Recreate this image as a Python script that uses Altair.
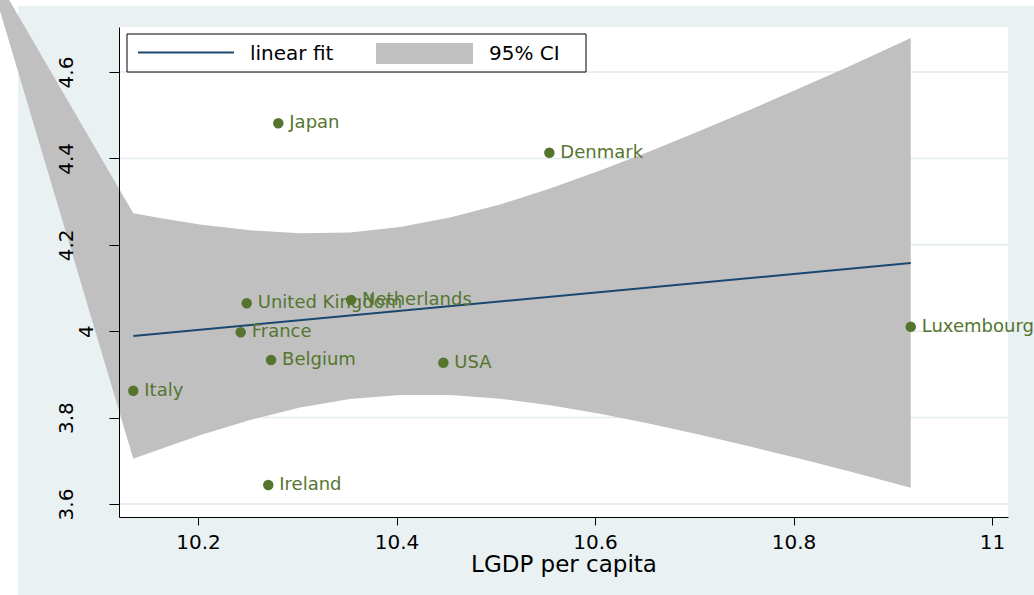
import altair as alt
import pandas as pd

# ---------------- data ----------------
countries = ["Japan", "Denmark", "United Kingdom", "Netherlands", "France",
             "Belgium", "USA", "Italy", "Ireland", "Luxembourg"]
lgdp = [10.2809, 10.5540, 10.2491, 10.3542, 10.2430,
        10.2736, 10.4472, 10.1348, 10.2708, 10.9181]
yval = [4.4812, 4.4132, 4.0646, 4.0722, 3.9975,
        3.9333, 3.9271, 3.8623, 3.6440, 4.0104]

fit_x = [10.1348, 10.9181]
fit_y = [3.989, 4.158]

# 95% CI band (first vertex is the stray vertex drawn by the original export)
ci_x = [9.984, 10.1348, 10.1617, 10.2020, 10.2524, 10.3028, 10.3531, 10.4035,
        10.4539, 10.5043, 10.5547, 10.6050, 10.6554, 10.7058, 10.7562,
        10.8066, 10.8569, 10.9181]
ci_upper = [4.8685, 4.2729, 4.2620, 4.2472, 4.2336, 4.2266, 4.2287, 4.2410,
            4.2630, 4.2933, 4.3301, 4.3718, 4.4167, 4.4639, 4.5127,
            4.5630, 4.6141, 4.6785]
ci_lower = [4.8685, 3.7049, 3.7269, 3.7593, 3.7947, 3.8234, 3.8431, 3.8525,
            3.8523, 3.8438, 3.8287, 3.8088, 3.7856, 3.7602, 3.7331,
            3.7046, 3.6752, 3.6377]

x_ticks = [10.2, 10.4, 10.6, 10.8, 11]
y_ticks = [3.6, 3.8, 4, 4.2, 4.4, 4.6]
x_domain = [10.1204, 11.0161]
y_domain = [3.5699, 4.7042]
legend_labels = ["linear fit", "95% CI"]
x_title = "LGDP per capita"

# ---------------- styling ----------------
W, H = 889, 490
FONT = "DejaVu Sans"
BG = "#EAF1F3"
GRID = "#E1EBEE"
NAVY = "#1A476F"
GREEN = "#55752F"
CI = "#C0C0C0"

pts = pd.DataFrame({"country": countries, "x": lgdp, "y": yval})
fit = pd.DataFrame({"x": fit_x, "y": fit_y})
band = pd.DataFrame({"x": ci_x, "upper": ci_upper, "lower": ci_lower})
grid = pd.DataFrame({"v": y_ticks})
one = alt.Data(values=[{"k": 0}])

xs = alt.Scale(domain=x_domain, nice=False, zero=False)
ys = alt.Scale(domain=y_domain, nice=False, zero=False)

x_axis = alt.Axis(values=x_ticks, format="~g", tickSize=8, labelPadding=7,
                  labelFontSize=20, title=x_title, titleFontSize=23,
                  titleY=36, titleBaseline="top", zindex=1)
y_axis = alt.Axis(values=y_ticks, format="~g", tickSize=10, labelAngle=270,
                  labelAlign="center",
                  labelBaseline={"condition": {"test": "datum.value == 4", "value": "top"},
                                 "value": "bottom"},
                  labelPadding=33, labelFontSize=20, title="", zindex=1)

# white page margins outside the Stata graph region (top and left)
strip_top = alt.Chart(one).mark_rect(color="white").encode(
    x=alt.value(-119), x2=alt.value(W + 26), y=alt.value(-27), y2=alt.value(-21))
strip_left = alt.Chart(one).mark_rect(color="white").encode(
    x=alt.value(-119), x2=alt.value(-101), y=alt.value(-27), y2=alt.value(H + 78))

gridlines = alt.Chart(grid).mark_rule(color=GRID, strokeWidth=1.5).encode(
    y=alt.Y("v:Q", scale=ys, axis=y_axis))

band_layer = alt.Chart(band).mark_area(color=CI, opacity=1).encode(
    x=alt.X("x:Q", scale=xs, axis=x_axis),
    y=alt.Y("upper:Q", scale=ys, axis=y_axis),
    y2="lower:Q")

fit_layer = alt.Chart(fit).mark_line(color=NAVY, strokeWidth=2).encode(
    x=alt.X("x:Q", scale=xs, axis=x_axis),
    y=alt.Y("y:Q", scale=ys, axis=y_axis))

pt_layer = alt.Chart(pts).mark_circle(size=110, color=GREEN, opacity=1).encode(
    x=alt.X("x:Q", scale=xs, axis=x_axis),
    y=alt.Y("y:Q", scale=ys, axis=y_axis))

lab_layer = alt.Chart(pts).mark_text(align="left", baseline="middle", dx=11,
                                     font=FONT, fontSize=18, color=GREEN).encode(
    x=alt.X("x:Q", scale=xs, axis=x_axis),
    y=alt.Y("y:Q", scale=ys, axis=y_axis),
    text="country:N")

# legend box (Stata style)
leg_box = alt.Chart(one).mark_rect(fill="white", stroke="#000000", strokeWidth=1).encode(
    x=alt.value(8), x2=alt.value(467), y=alt.value(7), y2=alt.value(45))
leg_line = alt.Chart(one).mark_rule(color=NAVY, strokeWidth=2).encode(
    x=alt.value(19), x2=alt.value(115), y=alt.value(25.5))
leg_swatch = alt.Chart(one).mark_rect(color=CI).encode(
    x=alt.value(257), x2=alt.value(354), y=alt.value(16), y2=alt.value(37))
leg_t1 = alt.Chart(one).mark_text(align="left", baseline="alphabetic", font=FONT,
                                  fontSize=20, color="#000000", text=legend_labels[0]).encode(
    x=alt.value(131), y=alt.value(33))
leg_t2 = alt.Chart(one).mark_text(align="left", baseline="alphabetic", font=FONT,
                                  fontSize=20, color="#000000", text=legend_labels[1]).encode(
    x=alt.value(370), y=alt.value(33))

chart = alt.layer(
    strip_top, strip_left, gridlines, band_layer, fit_layer, pt_layer, lab_layer,
    leg_box, leg_line, leg_swatch, leg_t1, leg_t2
).properties(
    width=W, height=H,
    autosize=alt.AutoSizeParams(type="none"),
    padding={"left": 119, "top": 27, "right": 26, "bottom": 78},
    background=BG,
).configure_view(stroke=None, fill="white").configure_axis(
    labelFont=FONT, titleFont=FONT, labelColor="#000000", titleColor="#000000",
    titleFontWeight="normal", domainColor="#000000", tickColor="#000000",
    grid=False, labelFlush=False, labelOverlap=False
)

chart.save("out.html", embed_options={"renderer": "svg", "actions": False})
